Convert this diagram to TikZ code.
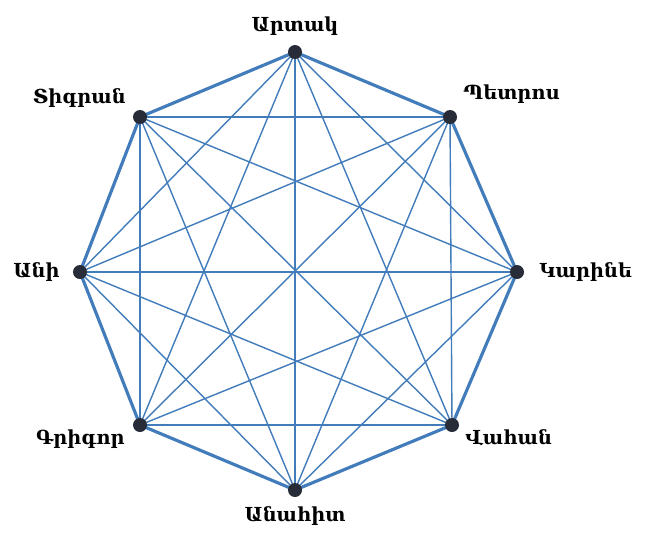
\documentclass[tikz,border=0pt]{standalone}
\usepackage{fontspec}
\newfontfamily\armfont{DejaVu Serif}
\usetikzlibrary{positioning,backgrounds}
\definecolor{edgeblue}{RGB}{66,124,186}
\definecolor{dotgray}{RGB}{40,44,56}
\tikzset{
  vtx/.style={circle,fill=dotgray,inner sep=0pt,minimum size=2.8mm},
  lbl/.style={font=\armfont\bfseries\fontsize{11}{13}\selectfont,inner sep=1pt},
  side/.style={edgeblue,line width=1.8pt,line join=round},
  diag/.style={edgeblue,line width=0.8pt}
}
\begin{document}
\begin{tikzpicture}[x=0.2mm,y=-0.2mm]
  \useasboundingbox (0,0) rectangle (650,534);
  % vertices
  \node[vtx] (art) at (295,52) {};
  \node[vtx] (pet) at (450,117) {};
  \node[vtx] (kar) at (517,272) {};
  \node[vtx] (vah) at (452,425) {};
  \node[vtx] (ana) at (295,490) {};
  \node[vtx] (gri) at (140,425) {};
  \node[vtx] (ani) at (80,272) {};
  \node[vtx] (tig) at (140,117) {};
  % names
  \node[lbl,above=1.4mm of art] {Արտակ};
  \node[lbl,above right=1.2mm and 1.2mm of pet] {Պետրոս};
  \node[lbl,right=2.6mm of kar] {Կարինե};
  \node[lbl,below right=-0.6mm and 1.2mm of vah] {Վահան};
  \node[lbl,below=1.4mm of ana] {Անահիտ};
  \node[lbl,below left=-0.6mm and 1.6mm of gri] {Գրիգոր};
  \node[lbl,left=2.2mm of ani] {Անի};
  \node[lbl,above left=0.4mm and 1.4mm of tig] {Տիգրան};
  % edges
  \begin{scope}[on background layer]
    \foreach \a/\b in {art/kar,art/vah,art/ana,art/gri,art/ani,
                       pet/vah,pet/ana,pet/gri,pet/ani,pet/tig,
                       kar/ana,kar/gri,kar/ani,kar/tig,
                       vah/gri,vah/ani,vah/tig,
                       ana/ani,ana/tig,gri/tig}
      \draw[diag] (\a.center) -- (\b.center);
    \draw[side] (art.center) -- (pet.center) -- (kar.center) -- (vah.center)
      -- (ana.center) -- (gri.center) -- (ani.center) -- (tig.center) -- cycle;
  \end{scope}
\end{tikzpicture}
\end{document}
